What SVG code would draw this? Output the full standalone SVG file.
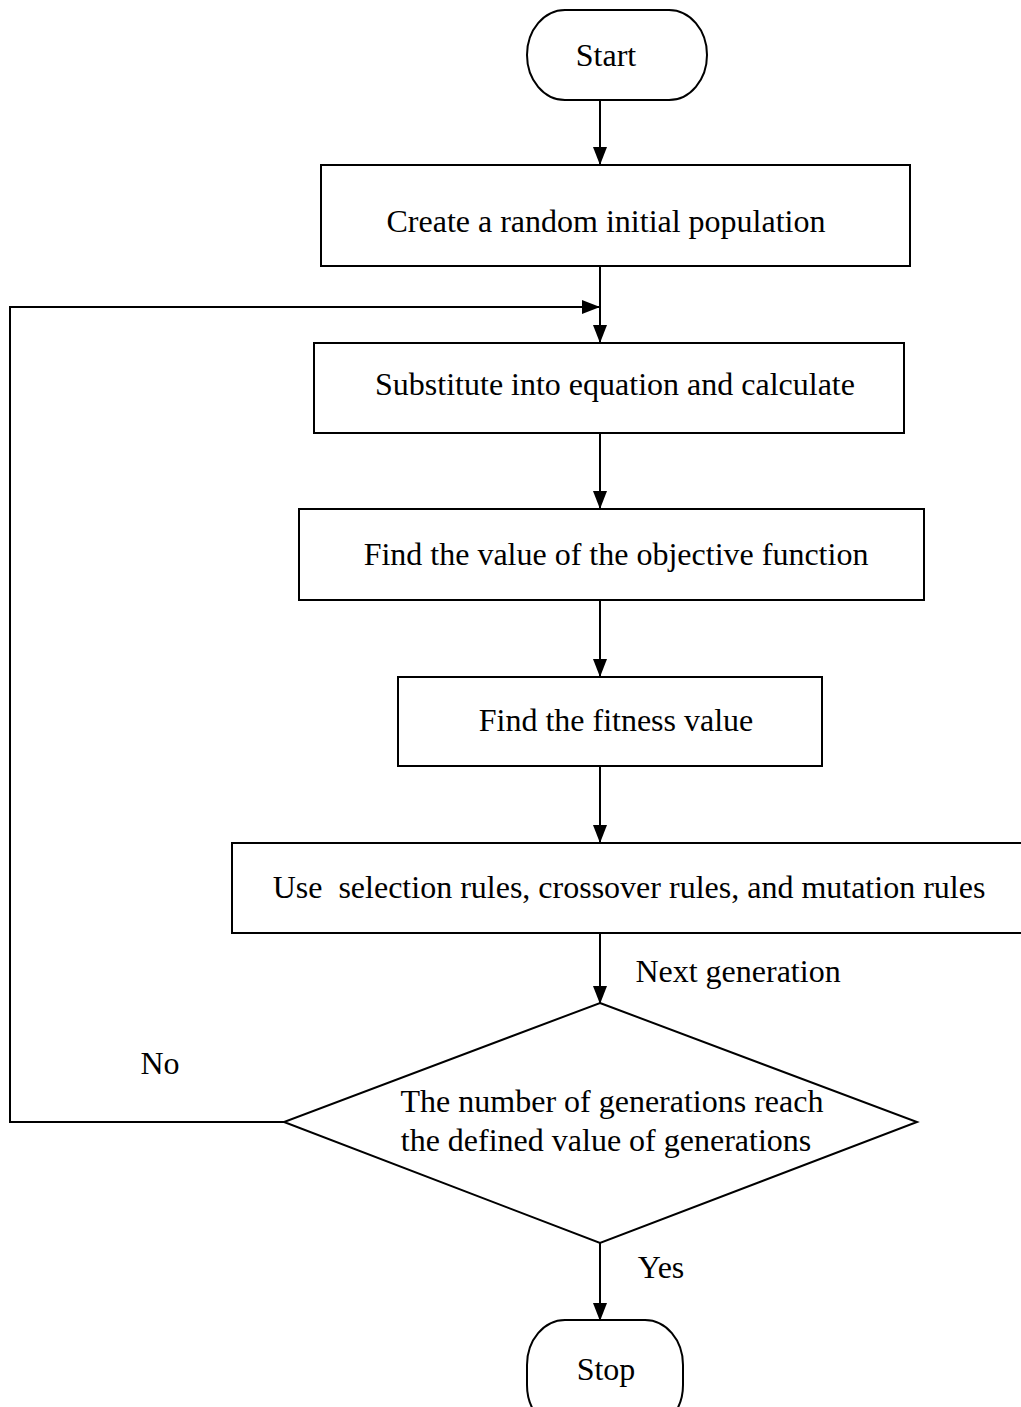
<svg xmlns="http://www.w3.org/2000/svg" width="1021" height="1407" viewBox="0 0 1021 1407">
<style>
.box{fill:#fff;stroke:#000;stroke-width:2}
.t{font-family:"Liberation Serif","Times New Roman",serif;font-size:32px;fill:#000;text-anchor:middle;white-space:pre}
.c{fill:none;stroke:#000;stroke-width:2}
</style>
<defs>
<marker id="ah" markerWidth="18" markerHeight="14" refX="17" refY="7" orient="auto" markerUnits="userSpaceOnUse">
<path d="M0,0 L18,7 L0,14 Z" fill="#000"/>
</marker>
</defs>
<rect width="1021" height="1407" fill="#fff"/>
<g id="connectors">
<line class="c" x1="600" y1="100" x2="600" y2="164" marker-end="url(#ah)"/>
<line class="c" x1="600" y1="266" x2="600" y2="342" marker-end="url(#ah)"/>
<line class="c" x1="600" y1="433" x2="600" y2="508" marker-end="url(#ah)"/>
<line class="c" x1="600" y1="600" x2="600" y2="676" marker-end="url(#ah)"/>
<line class="c" x1="600" y1="766" x2="600" y2="842" marker-end="url(#ah)"/>
<line class="c" x1="600" y1="933" x2="600" y2="1003" marker-end="url(#ah)"/>
<line class="c" x1="600" y1="1243" x2="600" y2="1320" marker-end="url(#ah)"/>
<polyline class="c" points="284,1122 10,1122 10,307 599,307" marker-end="url(#ah)"/>
<text class="t" x="738" y="982">Next generation</text>
<text class="t" x="160" y="1074">No</text>
<text class="t" x="661" y="1278">Yes</text>
</g>
<g id="start">
<rect class="box" x="527" y="10" width="180" height="90" rx="38" ry="45"/>
<text class="t" x="606" y="66">Start</text>
</g>
<g id="create">
<rect class="box" x="321" y="165" width="589" height="101"/>
<text class="t" x="606" y="232">Create a random initial population</text>
</g>
<g id="substitute">
<rect class="box" x="314" y="343" width="590" height="90"/>
<text class="t" x="615" y="395">Substitute into equation and calculate</text>
</g>
<g id="objective">
<rect class="box" x="299" y="509" width="625" height="91"/>
<text class="t" x="616" y="565">Find the value of the objective function</text>
</g>
<g id="fitness">
<rect class="box" x="398" y="677" width="424" height="89"/>
<text class="t" x="616" y="731">Find the fitness value</text>
</g>
<g id="operators">
<rect class="box" x="232" y="843" width="800" height="90"/>
<text class="t" x="629" y="898">Use  selection rules, crossover rules, and mutation rules</text>
</g>
<g id="decision">
<polygon class="box" points="600,1003 917,1122 600,1243 284,1122"/>
<text class="t" x="612" y="1112">The number of generations reach</text>
<text class="t" x="606" y="1151">the defined value of generations</text>
</g>
<g id="stop">
<rect class="box" x="527" y="1320" width="156" height="110" rx="38" ry="45"/>
<text class="t" x="606" y="1380">Stop</text>
</g>
</svg>
